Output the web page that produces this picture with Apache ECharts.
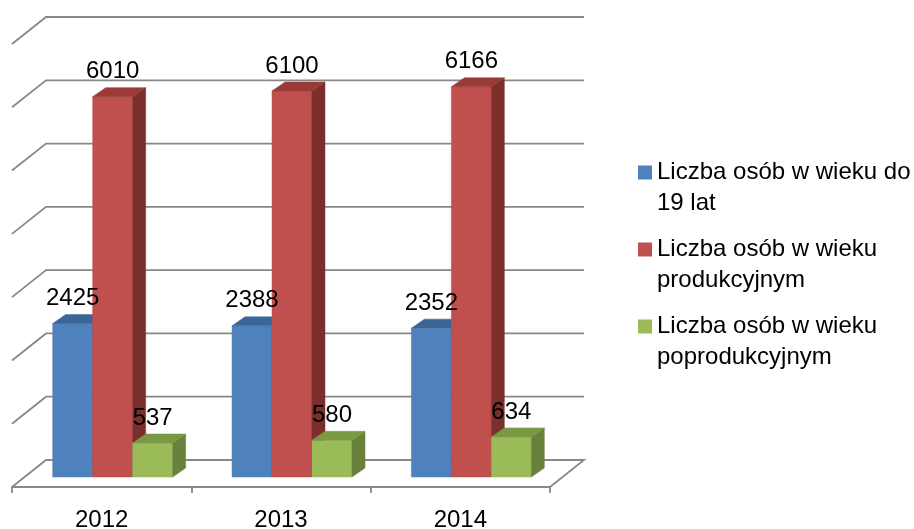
<!DOCTYPE html>
<html><head><meta charset="utf-8">
<script src="https://cdn.jsdelivr.net/npm/echarts@6/dist/echarts.min.js"></script>
<style>html,body{margin:0;padding:0;background:#fff}#c{width:914px;height:529px}</style>
</head><body><div id="c"></div>
<script>
const categories = ['2012', '2013', '2014'];
const seriesNames = ['Liczba osób w wieku do 19 lat', 'Liczba osób w wieku produkcyjnym', 'Liczba osób w wieku poprodukcyjnym'];
const youngValues = [2425, 2388, 2352];
const workingValues = [6010, 6100, 6166];
const seniorValues = [537, 580, 634];
const gridTicks = [0, 1000, 2000, 3000, 4000, 5000, 6000, 7000];

const FONT = '"Liberation Sans", Arial, sans-serif';
const palettes = [
  {front: '#4F81BD', side: '#385D8A', top: '#3C6597'},
  {front: '#C0504D', side: '#7B2F2D', top: '#9A3B38'},
  {front: '#9BBB59', side: '#6A813B', top: '#7B9843'}
];
const BAR_SHIFT = [11, -10];
const BAR_DEPTH = [13, -9];
const WALL_DEPTH = [34, -27];
const BAR_RATIO = 0.223;
const GRID_COLOR = '#888888';

function barRender(idx, pal) {
  return function (params, api) {
    const cat = api.value(0), val = api.value(1);
    const base = api.coord([cat, 0]);
    const top = api.coord([cat, val]);
    const band = api.size([1, 0])[0];
    const w = band * BAR_RATIO;
    const x0 = base[0] - 1.5 * w + idx * w + BAR_SHIFT[0];
    const x1 = x0 + w;
    const yb = base[1] + BAR_SHIFT[1];
    const yt = top[1] + BAR_SHIFT[1];
    const dx = BAR_DEPTH[0], dy = BAR_DEPTH[1];
    return {type: 'group', children: [
      {type: 'polygon', shape: {points: [[x0, yb], [x1, yb], [x1, yt], [x0, yt]]}, style: {fill: pal.front, stroke: pal.front, lineWidth: 0.5}},
      {type: 'polygon', shape: {points: [[x1, yb], [x1 + dx, yb + dy], [x1 + dx, yt + dy], [x1, yt]]}, style: {fill: pal.side, stroke: pal.side, lineWidth: 0.5}},
      {type: 'polygon', shape: {points: [[x0, yt], [x1, yt], [x1 + dx, yt + dy], [x0 + dx, yt + dy]]}, style: {fill: pal.top, stroke: pal.top, lineWidth: 0.5}},
      {type: 'text', z2: 100, style: {text: String(val), x: (x0 + x1) / 2, y: yt + dy - 16, align: 'center', verticalAlign: 'middle', font: '24px ' + FONT, fill: '#000'}}
    ]};
  };
}

function wallRender(params, api) {
  const v = api.value(1);
  const cs = params.coordSys;
  const p = api.coord([0, v]);
  const y = p[1];
  const xl = cs.x, xr = cs.x + cs.width;
  const pts = [[xl, y], [xl + WALL_DEPTH[0], y + WALL_DEPTH[1]], [xr + WALL_DEPTH[0], y + WALL_DEPTH[1]]];
  if (v === 0) pts.push([xr, y]);
  return {type: 'polyline', shape: {points: pts}, style: {stroke: GRID_COLOR, lineWidth: 1.8, fill: null}};
}

const valueSets = [youngValues, workingValues, seniorValues];
const series = [{
  type: 'custom', name: 'wall', z: 1, silent: true,
  renderItem: wallRender,
  data: gridTicks.map(v => [0, v]),
  encode: {x: 0, y: 1}
}];
valueSets.forEach((vals, i) => {
  series.push({
    type: 'custom', name: seriesNames[i], z: 2,
    itemStyle: {color: palettes[i].front},
    renderItem: barRender(i, palettes[i]),
    data: vals.map((v, j) => [j, v]),
    encode: {x: 0, y: 1}
  });
});

const chart = echarts.init(document.getElementById('c'), null, {renderer: 'canvas'});
chart.setOption({
  animation: false,
  backgroundColor: '#fff',
  grid: {left: 12, right: 364, top: 44, bottom: 42, containLabel: false, outerBoundsMode: 'none'},
  xAxis: {
    type: 'category', data: categories, boundaryGap: true,
    axisLine: {lineStyle: {color: GRID_COLOR, width: 1.8}},
    axisTick: {show: true, length: 6, lineStyle: {color: GRID_COLOR, width: 1.8}},
    axisLabel: {fontFamily: FONT, fontSize: 24, color: '#000', margin: 21},
    splitLine: {show: false}
  },
  yAxis: {
    type: 'value', min: 0, max: 7000, interval: 1000,
    axisLine: {show: false}, axisTick: {show: false}, axisLabel: {show: false}, splitLine: {show: false}
  },
  legend: {
    orient: 'vertical', left: 638, top: 126, padding: 0,
    itemWidth: 14, itemHeight: 14, itemGap: -16, icon: 'rect',
    data: seriesNames,
    formatter: function (name) { return '\n' + name; },
    textStyle: {fontFamily: FONT, fontSize: 24, color: '#000', width: 275, overflow: 'break', lineHeight: 31}
  },
  series: series
});
</script>
</body></html>
